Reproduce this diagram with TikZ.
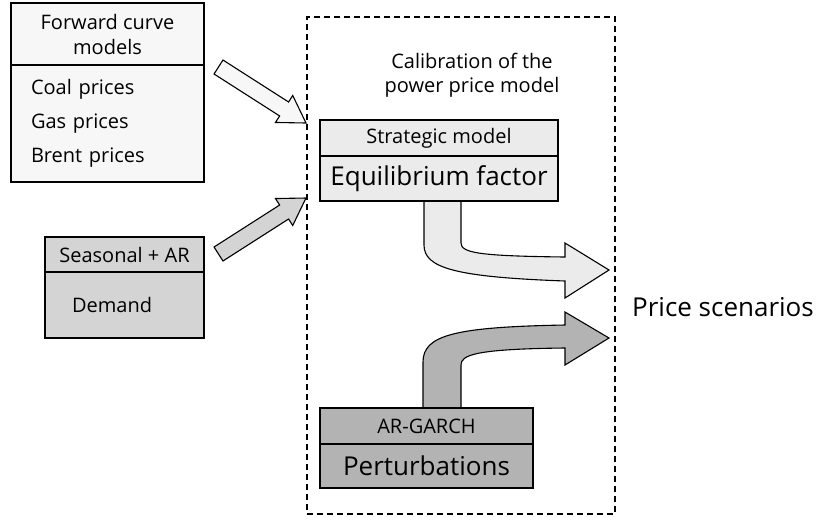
\documentclass[tikz,border=0pt]{standalone}
\usepackage{fontspec}
\setmainfont{Open Sans}
\usetikzlibrary{positioning,calc}

\definecolor{paleface}{HTML}{F7F7F7}
\definecolor{lightface}{HTML}{EBEBEB}
\definecolor{midface}{HTML}{D4D4D4}
\definecolor{darkface}{HTML}{B3B3B3}

\tikzset{
  smalltext/.style = {font=\fontsize{20}{24}\selectfont},
  bigtext/.style = {font=\fontsize{26}{28}\selectfont},
  partbox/.style = {
    rectangle,
    draw,
    line width=1.2pt,
    inner sep=0pt,
    outer sep=0pt,
    align=center
  },
  listbox/.style = {
    partbox,
    align=left,
    font=\fontsize{20}{34}\selectfont
  },
  fatline/.style = {
    draw,
    line width=1.1pt,
    line join=miter
  }
}

% straight fat arrow: tail, tip, fill colour
\newcommand{\fatarrow}[3]{%
  \coordinate (fathead) at ($(#2)!26pt!(#1)$);
  \filldraw[fatline, fill=#3]
    ($(#1)!8.3pt!90:(#2)$) -- ($(fathead)!8.3pt!-90:(#1)$)
    -- ($(fathead)!16pt!-90:(#1)$) -- (#2)
    -- ($(fathead)!16pt!90:(#1)$) -- ($(fathead)!8.3pt!90:(#1)$)
    -- ($(#1)!8.3pt!-90:(#2)$) -- cycle;
}

\begin{document}
\begin{tikzpicture}[x=1pt, y=-1pt]
    \useasboundingbox (0,0) rectangle (824,520);

    % calibration frame
    \node[draw, line width=1.2pt, dash pattern=on 6pt off 4pt, minimum width=308pt,
      minimum height=497pt, inner sep=0pt] (calib) at (461,265.5) {};
    \node[smalltext, align=center] (calibtitle) at (472,75) {Calibration of the\\power price model};

    % input models
    \node[partbox, fill=paleface, minimum width=193pt, minimum height=62pt,
      font=\fontsize{20}{25}\selectfont] (fwdhead) at (107.5,34) {Forward curve\\models};
    \node[listbox, fill=paleface, below=0pt of fwdhead, minimum height=117pt,
      inner xsep=20pt, text width=153pt] (fwdbody) {Coal prices\\Gas prices\\Brent prices};
    \node[partbox, fill=midface, smalltext, minimum width=159pt, minimum height=35pt]
      (seashead) at (124.5,254.5) {Seasonal + AR};
    \node[listbox, fill=midface, below=0pt of seashead, minimum height=66pt,
      inner xsep=27pt, text width=105pt] (seasbody) {Demand};

    % curved arrows
    \filldraw[fatline, fill=lightface] (424,201.6) -- (424,245)
      .. controls (424,268) and (455,277) .. (565,281) -- (565,298) -- (609,270)
      -- (565,243) -- (565,257) .. controls (480,256) and (461,253) .. (461,243)
      -- (461,201.6);
    \filldraw[fatline, fill=darkface] (423,407.4) -- (423,362)
      .. controls (423,335) and (455,327) .. (565,325) -- (565,312) -- (609,338)
      -- (565,365) -- (565,348) .. controls (475,349) and (461,355) .. (461,365)
      -- (461,407.4);

    % calibration models
    \node[partbox, fill=lightface, smalltext, minimum width=238pt, minimum height=36pt]
      (strathead) at (439,138) {Strategic model};
    \node[partbox, fill=lightface, bigtext, below=0pt of strathead, minimum width=238pt,
      minimum height=45pt] (eqbody) {Equilibrium factor};
    \node[partbox, fill=darkface, smalltext, minimum width=213pt, minimum height=36pt]
      (garchhead) at (426.5,426) {AR-GARCH};
    \node[partbox, fill=darkface, bigtext, below=0pt of garchhead, minimum width=213pt,
      minimum height=44pt] (pertbody) {Perturbations};

    \node[bigtext, anchor=west, inner sep=0pt] (scen) at (632,307) {Price scenarios};

    % inputs into calibration
    \coordinate (fwdtail) at (218.5,67);
    \coordinate (fwdtip) at (306,123);
    \coordinate (seastail) at (218.5,254);
    \coordinate (seastip) at (306,198);
    \fatarrow{fwdtail}{fwdtip}{paleface}
    \fatarrow{seastail}{seastip}{midface}
\end{tikzpicture}
\end{document}
